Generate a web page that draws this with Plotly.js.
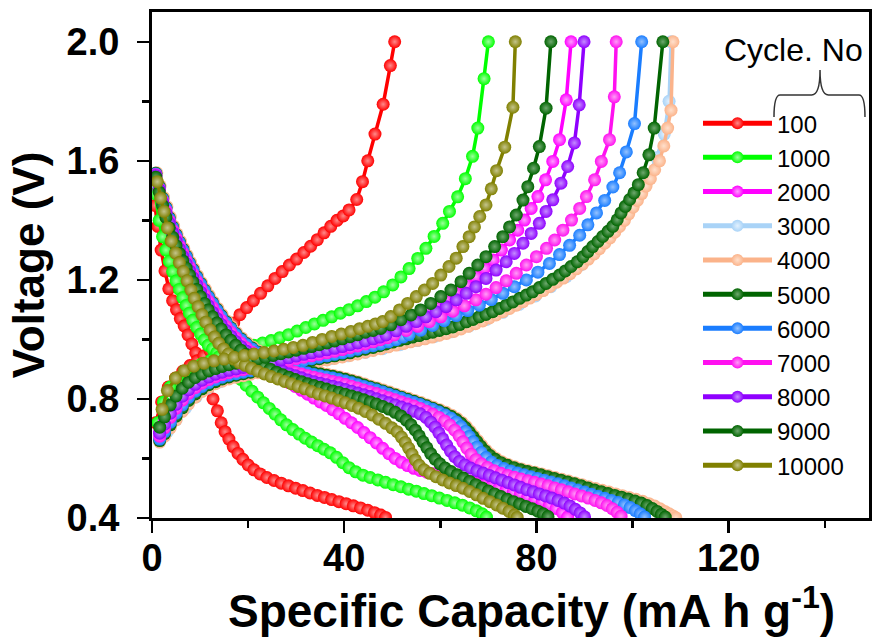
<!DOCTYPE html>
<html>
<head>
<meta charset="utf-8">
<script src="https://cdn.plot.ly/plotly-3.0.1.min.js"></script>
<style>html,body{margin:0;padding:0;background:#fff;}#chart{width:877px;height:640px;}</style>
</head>
<body>
<div id="chart"></div>
<script>
// ---------- DATA ----------
const cycleLabels = ['100','1000','2000','3000','4000','5000','6000','7000','8000','9000','10000'];

// 100 cycles
const dis100Cap = [0.6,1.2,1.9,2.7,3.5,4.3,5.1,5.9,6.7,7.5,8.3,9.1,10.0,10.9,11.8,12.7,13.6,14.4,15.2,16.0,16.9,17.9,18.9,20.0,21.2,22.5,23.9,25.4,26.9,28.4,29.9,31.4,32.9,34.4,35.9,37.4,38.9,40.4,41.9,43.4,44.9,46.3,47.6,48.6];
const dis100V = [1.45,1.38,1.30,1.23,1.17,1.13,1.10,1.07,1.045,1.015,0.985,0.955,0.92,0.88,0.84,0.80,0.76,0.72,0.69,0.665,0.64,0.617,0.597,0.578,0.562,0.548,0.536,0.526,0.517,0.508,0.5,0.492,0.484,0.476,0.469,0.462,0.455,0.448,0.441,0.434,0.426,0.418,0.41,0.402];
const chg100Cap = [0.8,2.0,3.4,4.9,6.4,7.9,9.4,10.8,12.1,13.4,14.6,15.8,17.0,18.3,19.7,21.1,22.6,24.1,25.6,27.1,28.6,30.1,31.6,33.0,34.4,35.8,37.2,38.5,39.8,41.0,42.6,43.8,44.9,46.4,48.1,49.6,50.5];
const chg100V = [0.72,0.79,0.84,0.87,0.893,0.912,0.928,0.945,0.962,0.98,1.0,1.025,1.055,1.083,1.107,1.13,1.155,1.18,1.205,1.228,1.25,1.27,1.292,1.313,1.335,1.358,1.38,1.40,1.415,1.435,1.47,1.53,1.60,1.69,1.79,1.92,2.0];

// 1000 cycles
const dis1000Cap = [0.7,1.5,2.2,2.9,3.6,4.3,5.0,5.7,6.4,7.1,7.8,8.5,9.3,10.1,10.9,11.7,12.6,13.5,14.4,15.4,16.4,17.4,18.5,19.6,20.8,22.0,23.2,24.4,25.6,26.8,28.0,29.3,30.6,31.9,33.2,34.5,35.8,37.1,38.4,39.7,41.0,42.4,43.9,45.4,47.0,48.6,50.2,51.8,53.4,55.0,56.6,58.2,59.8,61.4,63.0,64.6,66.1,67.5,68.7,69.6];
const dis1000V = [1.49,1.40,1.345,1.30,1.262,1.228,1.196,1.168,1.14,1.114,1.088,1.064,1.04,1.018,0.998,0.98,0.968,0.955,0.938,0.92,0.903,0.886,0.866,0.846,0.826,0.806,0.787,0.768,0.749,0.73,0.713,0.697,0.682,0.668,0.655,0.643,0.631,0.619,0.604,0.586,0.569,0.555,0.544,0.536,0.528,0.52,0.512,0.505,0.497,0.49,0.482,0.475,0.467,0.459,0.451,0.443,0.434,0.424,0.414,0.403];
const chg1000Cap = [1.2,2.4,3.8,5.3,6.9,8.6,10.4,12.2,14.0,15.8,17.6,19.4,21.2,23.0,24.8,26.6,28.4,30.2,32.0,33.8,35.6,37.4,39.2,41.0,42.8,44.6,46.4,48.2,50.1,51.8,53.5,55.3,57.0,58.7,60.5,61.9,63.6,65.2,66.7,67.8,69.1,70.0];
const chg1000V = [0.72,0.79,0.84,0.87,0.89,0.905,0.918,0.93,0.942,0.953,0.963,0.972,0.98,0.988,0.996,1.006,1.016,1.028,1.04,1.052,1.064,1.076,1.088,1.1,1.113,1.127,1.142,1.16,1.183,1.21,1.238,1.272,1.306,1.346,1.39,1.43,1.479,1.54,1.615,1.71,1.876,2.0];

// 2000 cycles
const dis2000Cap = [0.8,1.5,2.2,2.9,3.6,4.3,5.0,5.7,6.4,7.1,7.8,8.5,9.3,10.1,10.9,11.7,12.6,13.5,14.4,15.4,16.4,17.4,18.5,19.6,20.8,22.0,23.3,24.6,25.9,27.2,28.5,29.8,31.1,32.4,33.7,35.0,36.3,37.6,38.9,40.2,41.5,42.8,44.1,45.4,46.7,48.0,49.3,50.6,51.9,53.2,54.5,55.8,57.2,58.7,60.2,61.7,63.2,64.7,66.2,67.7,69.2,70.7,72.2,73.7,75.2,76.7,78.2,79.7,81.2,82.7,84.1,85.4,86.5];
const dis2000V = [1.545,1.5,1.46,1.425,1.39,1.36,1.333,1.307,1.282,1.258,1.234,1.211,1.186,1.162,1.139,1.117,1.094,1.072,1.051,1.03,1.01,0.991,0.973,0.956,0.94,0.925,0.91,0.896,0.882,0.868,0.855,0.842,0.829,0.816,0.803,0.79,0.778,0.764,0.75,0.735,0.72,0.704,0.687,0.67,0.652,0.634,0.616,0.6,0.587,0.576,0.567,0.56,0.554,0.549,0.544,0.539,0.534,0.529,0.524,0.518,0.512,0.506,0.5,0.494,0.487,0.48,0.472,0.464,0.455,0.444,0.432,0.418,0.403];
const chg2000Cap = [1.6,2.6,3.8,5.0,6.3,7.6,9.0,10.4,11.8,13.2,14.6,16.0,17.5,19.0,20.5,22.0,23.6,25.2,26.8,28.4,30.0,31.6,33.2,34.8,36.4,38.0,39.6,41.2,42.8,44.4,46.0,47.4,48.7,50.8,52.9,55.0,57.0,59.1,61.2,63.3,65.4,67.4,69.2,71.0,72.7,74.4,76.1,77.5,78.9,80.3,81.9,83.4,84.8,86.2,87.2];
const chg2000V = [0.69,0.725,0.765,0.795,0.822,0.843,0.86,0.873,0.884,0.893,0.9,0.906,0.911,0.916,0.921,0.926,0.931,0.936,0.942,0.948,0.954,0.96,0.965,0.97,0.975,0.981,0.987,0.993,0.999,1.006,1.013,1.02,1.026,1.043,1.06,1.076,1.093,1.11,1.133,1.155,1.183,1.211,1.239,1.267,1.3,1.334,1.367,1.401,1.44,1.48,1.536,1.598,1.671,1.805,2.0];

// 3000 cycles (lies under the 4000 curve)
const dis3000Cap = [0.9,2.3,3.7,5.1,6.5,7.9,9.4,11.0,12.7,14.5,16.5,18.6,20.9,23.4,26.0,28.6,31.2,33.8,36.4,39.0,41.6,44.2,46.8,49.4,52.0,54.6,57.2,59.8,62.2,64.4,66.1,67.7,69.4,71.5,74.0,76.8,79.6,82.4,85.2,88.0,90.8,93.6,96.4,99.2,101.8,104.0,106.0,107.8,108.7];
const dis3000V = [1.557,1.47,1.405,1.35,1.302,1.256,1.209,1.164,1.12,1.077,1.037,1.0,0.969,0.945,0.926,0.911,0.899,0.889,0.881,0.872,0.861,0.848,0.835,0.821,0.807,0.793,0.778,0.762,0.743,0.718,0.688,0.655,0.623,0.597,0.578,0.564,0.553,0.541,0.529,0.517,0.503,0.49,0.478,0.466,0.453,0.437,0.42,0.407,0.401];
const chg3000Cap = [1.6,3.2,5.0,7.0,9.2,11.6,14.2,17.0,20.0,23.2,26.6,30.0,33.6,37.2,40.8,44.4,48.0,51.6,55.2,58.8,62.4,66.0,69.6,73.0,76.4,79.8,83.0,86.2,89.2,92.0,94.6,97.0,99.3,101.4,103.3,105.0,106.6,107.6,108.0];
const chg3000V = [0.658,0.69,0.73,0.77,0.807,0.836,0.858,0.874,0.884,0.895,0.906,0.915,0.925,0.935,0.945,0.956,0.969,0.982,0.996,1.01,1.026,1.045,1.067,1.091,1.118,1.146,1.177,1.211,1.25,1.292,1.337,1.387,1.44,1.493,1.55,1.61,1.69,1.8,2.0];

// 4000 cycles
const dis4000Cap = [1.0,1.7,2.4,3.1,3.8,4.5,5.2,5.9,6.6,7.3,8.0,8.7,9.5,10.3,11.1,11.9,12.8,13.7,14.6,15.6,16.6,17.6,18.7,19.8,21.0,22.2,23.5,24.8,26.1,27.4,28.7,30.0,31.3,32.6,33.9,35.2,36.5,37.8,39.1,40.4,41.7,43.0,44.3,45.6,46.9,48.2,49.5,50.8,52.1,53.4,54.7,56.0,57.3,58.6,59.9,61.2,62.4,63.5,64.5,65.4,66.2,67.0,67.8,68.6,69.5,70.5,71.6,72.8,74.1,75.5,76.9,78.3,79.7,81.1,82.5,83.9,85.3,86.7,88.1,89.5,90.9,92.3,93.7,95.1,96.5,97.9,99.3,100.7,102.1,103.4,104.6,105.7,106.7,107.6,108.4,109.0];
const dis4000V = [1.56,1.516,1.477,1.446,1.411,1.381,1.355,1.33,1.306,1.283,1.26,1.238,1.214,1.191,1.169,1.148,1.126,1.104,1.083,1.062,1.042,1.023,1.005,0.989,0.974,0.961,0.949,0.939,0.93,0.921,0.914,0.907,0.901,0.896,0.891,0.887,0.883,0.879,0.874,0.869,0.863,0.857,0.85,0.843,0.837,0.83,0.823,0.816,0.809,0.802,0.795,0.788,0.78,0.772,0.764,0.755,0.745,0.734,0.721,0.707,0.692,0.676,0.66,0.644,0.628,0.613,0.6,0.589,0.58,0.572,0.565,0.559,0.554,0.548,0.542,0.536,0.53,0.524,0.518,0.512,0.505,0.499,0.493,0.487,0.481,0.475,0.469,0.463,0.456,0.448,0.44,0.431,0.422,0.414,0.407,0.401];
const chg4000Cap = [1.6,2.6,3.8,5.0,6.3,7.6,9.0,10.4,11.8,13.2,14.6,16.0,17.5,19.0,20.5,22.0,23.6,25.2,26.8,28.4,30.0,31.6,33.2,34.8,36.4,38.0,39.6,41.2,42.8,44.4,46.0,47.6,49.2,50.8,52.3,53.8,55.3,56.8,58.3,59.8,61.3,62.8,64.3,65.8,67.3,68.8,70.2,71.6,73.0,74.4,75.8,77.2,78.6,80.0,81.4,82.8,84.2,85.6,87.0,88.3,89.6,90.8,92.0,93.1,94.2,95.3,96.3,97.3,98.3,99.2,100.1,101.0,101.9,102.8,103.7,104.6,105.6,106.5,107.3,108.0,108.4];
const chg4000V = [0.655,0.675,0.703,0.73,0.758,0.783,0.806,0.825,0.84,0.851,0.86,0.867,0.873,0.878,0.883,0.888,0.893,0.898,0.903,0.908,0.913,0.918,0.923,0.927,0.931,0.936,0.941,0.946,0.951,0.957,0.963,0.969,0.975,0.981,0.986,0.992,0.997,1.002,1.008,1.014,1.02,1.027,1.035,1.044,1.053,1.062,1.072,1.082,1.093,1.104,1.115,1.127,1.139,1.151,1.164,1.178,1.192,1.206,1.221,1.237,1.253,1.27,1.287,1.305,1.323,1.341,1.36,1.38,1.4,1.422,1.444,1.467,1.49,1.515,1.54,1.57,1.6,1.65,1.71,1.77,2.0];

// 5000 cycles
const dis5000Cap = [0.8,1.5,2.2,2.9,3.6,4.3,5.0,5.7,6.4,7.1,7.8,8.5,9.3,10.1,10.9,11.7,12.6,13.5,14.4,15.4,16.4,17.4,18.5,19.6,20.8,22.0,23.3,24.6,25.9,27.2,28.5,29.8,31.1,32.4,33.7,35.0,36.3,37.6,38.9,40.2,41.5,42.8,44.1,45.4,46.7,48.0,49.3,50.6,51.9,53.2,54.5,55.8,57.1,58.4,59.7,61.0,62.2,63.3,64.3,65.2,66.0,66.8,67.6,68.4,69.3,70.3,71.4,72.6,73.9,75.3,76.7,78.1,79.5,80.9,82.3,83.7,85.1,86.5,87.9,89.3,90.7,92.1,93.5,94.9,96.3,97.7,99.1,100.5,101.8,103.0,104.1,105.1,106.0,106.8];
const dis5000V = [1.558,1.514,1.474,1.443,1.408,1.378,1.352,1.327,1.303,1.28,1.257,1.235,1.211,1.188,1.166,1.145,1.123,1.101,1.08,1.059,1.039,1.02,1.002,0.986,0.971,0.958,0.946,0.936,0.927,0.918,0.911,0.904,0.898,0.893,0.888,0.884,0.88,0.876,0.871,0.866,0.86,0.854,0.847,0.84,0.834,0.827,0.82,0.813,0.806,0.799,0.792,0.785,0.777,0.769,0.761,0.752,0.742,0.731,0.718,0.704,0.689,0.673,0.657,0.641,0.625,0.61,0.597,0.586,0.577,0.569,0.562,0.556,0.551,0.545,0.539,0.533,0.527,0.521,0.515,0.508,0.501,0.494,0.488,0.482,0.476,0.47,0.464,0.457,0.45,0.442,0.432,0.422,0.412,0.403];
const chg5000Cap = [1.6,2.6,3.8,5.0,6.3,7.6,9.0,10.4,11.8,13.2,14.6,16.0,17.5,19.0,20.5,22.0,23.6,25.2,26.8,28.4,30.0,31.6,33.2,34.8,36.4,38.0,39.6,41.2,42.8,44.4,46.0,47.4,48.7,50.1,51.5,52.9,54.2,55.6,57.0,58.4,59.8,61.2,62.6,64.0,65.4,66.8,68.1,69.5,70.9,72.3,73.7,75.1,76.5,77.9,79.2,80.6,82.0,83.4,84.8,86.0,87.2,88.5,89.7,90.7,91.7,92.8,93.8,94.9,95.9,96.8,97.6,98.5,99.4,100.3,101.2,102.2,103.4,104.5,106.3];
const chg5000V = [0.66,0.683,0.713,0.742,0.77,0.795,0.817,0.834,0.848,0.858,0.867,0.874,0.88,0.885,0.89,0.895,0.9,0.905,0.91,0.915,0.92,0.925,0.93,0.935,0.94,0.945,0.95,0.955,0.961,0.967,0.973,0.979,0.985,0.991,0.997,1.002,1.008,1.013,1.019,1.024,1.03,1.036,1.042,1.05,1.059,1.067,1.076,1.084,1.093,1.104,1.115,1.126,1.138,1.149,1.16,1.174,1.188,1.202,1.216,1.23,1.245,1.261,1.278,1.295,1.312,1.329,1.346,1.363,1.38,1.402,1.425,1.447,1.47,1.492,1.52,1.56,1.62,1.71,2.0];

// 6000 cycles
const dis6000Cap = [0.8,1.5,2.2,2.9,3.6,4.3,5.0,5.7,6.4,7.1,7.8,8.5,9.3,10.1,10.9,11.7,12.6,13.5,14.4,15.4,16.4,17.4,18.5,19.6,20.8,22.0,23.3,24.6,25.9,27.2,28.5,29.8,31.1,32.4,33.7,35.0,36.3,37.6,38.9,40.2,41.5,42.8,44.1,45.4,46.7,48.0,49.3,50.6,51.9,53.2,54.5,55.8,57.1,58.4,59.7,61.0,62.2,63.3,64.3,65.2,66.0,66.8,67.6,68.5,69.5,70.6,71.8,73.2,74.6,76.0,77.4,78.8,80.2,81.6,83.0,84.4,85.8,87.2,88.6,90.0,91.4,92.8,94.2,95.6,97.0,98.3,99.5,100.6,101.6,102.5];
const dis6000V = [1.556,1.511,1.471,1.44,1.405,1.375,1.349,1.324,1.3,1.277,1.254,1.232,1.208,1.185,1.163,1.142,1.12,1.098,1.077,1.056,1.036,1.017,0.999,0.983,0.968,0.955,0.943,0.932,0.922,0.913,0.906,0.899,0.893,0.887,0.882,0.878,0.874,0.87,0.865,0.86,0.854,0.848,0.842,0.836,0.83,0.823,0.816,0.809,0.802,0.795,0.788,0.781,0.773,0.765,0.756,0.746,0.735,0.722,0.707,0.691,0.674,0.656,0.638,0.62,0.603,0.588,0.576,0.566,0.558,0.551,0.545,0.539,0.533,0.527,0.521,0.515,0.508,0.501,0.494,0.487,0.48,0.473,0.466,0.459,0.452,0.444,0.435,0.425,0.414,0.403];
const chg6000Cap = [1.6,2.6,3.8,5.0,6.3,7.6,9.0,10.4,11.8,13.2,14.6,16.0,17.5,19.0,20.5,22.0,23.6,25.2,26.8,28.4,30.0,31.6,33.2,34.8,36.4,38.0,39.6,41.2,42.8,44.4,46.0,47.6,49.2,50.8,52.2,53.5,55.9,58.4,60.8,63.3,65.7,68.1,70.6,73.0,75.4,77.9,80.3,82.7,84.8,86.9,89.0,90.7,92.5,94.2,95.9,97.3,98.7,100.4,101.9];
const chg6000V = [0.665,0.69,0.722,0.752,0.78,0.805,0.826,0.842,0.855,0.865,0.873,0.88,0.885,0.89,0.895,0.9,0.905,0.91,0.915,0.92,0.925,0.93,0.935,0.94,0.945,0.95,0.955,0.961,0.967,0.973,0.979,0.985,0.992,0.999,1.008,1.016,1.031,1.047,1.063,1.08,1.097,1.115,1.134,1.155,1.177,1.2,1.226,1.255,1.285,1.316,1.35,1.385,1.425,1.467,1.512,1.56,1.63,1.725,2.0];

// 7000 cycles
const dis7000Cap = [0.8,1.5,2.2,2.9,3.6,4.3,5.0,5.7,6.4,7.1,7.8,8.5,9.3,10.1,10.9,11.7,12.6,13.5,14.4,15.4,16.4,17.4,18.5,19.6,20.8,22.0,23.3,24.6,25.9,27.2,28.5,29.8,31.1,32.4,33.7,35.0,36.3,37.6,38.9,40.2,41.5,42.8,44.1,45.4,46.7,48.0,49.3,50.6,51.9,53.2,54.5,55.8,57.1,58.4,59.7,60.9,62.0,63.0,63.9,64.7,65.5,66.4,67.4,68.5,69.8,71.2,72.6,74.0,75.4,76.8,78.2,79.6,81.0,82.4,83.8,85.2,86.6,88.0,89.4,90.8,92.2,93.5,94.7,95.8,96.8,97.6];
const dis7000V = [1.553,1.507,1.466,1.433,1.398,1.367,1.34,1.315,1.29,1.266,1.243,1.22,1.196,1.172,1.15,1.129,1.107,1.085,1.064,1.044,1.024,1.006,0.988,0.972,0.957,0.944,0.932,0.922,0.913,0.904,0.897,0.89,0.884,0.878,0.873,0.868,0.864,0.859,0.854,0.849,0.843,0.837,0.83,0.824,0.818,0.811,0.804,0.797,0.79,0.783,0.776,0.768,0.759,0.749,0.738,0.726,0.712,0.695,0.676,0.656,0.635,0.614,0.596,0.582,0.57,0.559,0.55,0.543,0.537,0.531,0.525,0.52,0.514,0.508,0.501,0.495,0.488,0.481,0.474,0.467,0.459,0.451,0.442,0.431,0.419,0.406];
const chg7000Cap = [1.6,2.6,3.8,5.0,6.3,7.6,9.0,10.4,11.8,13.2,14.6,16.0,17.5,19.0,20.5,22.0,23.6,25.2,26.8,28.4,30.0,31.6,33.2,34.8,36.4,38.0,39.6,41.2,42.8,44.4,46.0,47.5,49.0,50.4,52.9,55.3,57.7,60.1,62.6,65.0,67.4,69.5,71.6,73.7,75.8,77.9,80.0,82.1,83.8,85.5,87.3,89.0,90.4,92.1,93.5,95.2,96.2,96.6];
const chg7000V = [0.675,0.703,0.738,0.768,0.796,0.819,0.838,0.853,0.865,0.874,0.882,0.888,0.893,0.898,0.903,0.908,0.913,0.918,0.923,0.929,0.935,0.94,0.945,0.95,0.955,0.96,0.966,0.972,0.978,0.985,0.992,0.999,1.006,1.015,1.03,1.044,1.06,1.076,1.095,1.113,1.133,1.152,1.174,1.197,1.222,1.25,1.278,1.306,1.334,1.367,1.401,1.44,1.48,1.536,1.598,1.671,1.815,2.0];

// 8000 cycles
const dis8000Cap = [0.8,1.5,2.2,2.9,3.6,4.3,5.0,5.7,6.4,7.1,7.8,8.5,9.3,10.1,10.9,11.7,12.6,13.5,14.4,15.4,16.4,17.4,18.5,19.6,20.8,22.0,23.3,24.6,25.9,27.2,28.5,29.8,31.1,32.4,33.7,35.0,36.3,37.6,38.9,40.2,41.5,42.8,44.1,45.4,46.7,48.0,49.3,50.6,51.9,53.2,54.5,55.8,57.0,58.0,58.9,59.7,60.5,61.3,62.1,63.0,64.0,65.1,66.3,67.6,68.9,70.2,71.5,72.8,74.1,75.4,76.7,78.0,79.3,80.6,81.9,83.2,84.5,85.8,87.0,88.1,89.1,90.0];
const dis8000V = [1.55,1.503,1.46,1.424,1.39,1.358,1.33,1.304,1.279,1.255,1.231,1.208,1.183,1.159,1.136,1.114,1.091,1.07,1.05,1.03,1.011,0.993,0.976,0.961,0.947,0.934,0.922,0.912,0.902,0.893,0.885,0.878,0.871,0.864,0.858,0.853,0.848,0.843,0.838,0.832,0.826,0.82,0.814,0.808,0.801,0.794,0.787,0.78,0.773,0.766,0.759,0.75,0.738,0.722,0.705,0.686,0.666,0.645,0.625,0.606,0.59,0.578,0.568,0.559,0.551,0.543,0.535,0.527,0.519,0.511,0.503,0.495,0.488,0.481,0.474,0.467,0.459,0.45,0.44,0.429,0.417,0.404];
const chg8000Cap = [1.6,2.6,3.8,5.0,6.3,7.6,9.0,10.4,11.8,13.2,14.6,16.0,17.5,19.0,20.5,22.0,23.6,25.2,26.8,28.4,30.0,31.6,33.2,34.8,36.4,38.0,39.6,41.2,42.8,44.4,46.0,47.4,48.7,50.8,52.9,55.0,57.0,59.1,61.2,63.3,65.4,67.4,69.5,71.6,73.7,75.4,77.2,78.9,80.6,82.0,83.4,85.1,86.5,87.9,88.9,89.9];
const chg8000V = [0.685,0.715,0.752,0.782,0.809,0.831,0.849,0.863,0.874,0.883,0.89,0.896,0.901,0.906,0.911,0.916,0.921,0.926,0.932,0.938,0.944,0.95,0.955,0.96,0.965,0.97,0.976,0.982,0.988,0.995,1.002,1.008,1.015,1.029,1.044,1.06,1.076,1.093,1.11,1.133,1.155,1.177,1.205,1.233,1.261,1.289,1.323,1.356,1.39,1.43,1.469,1.525,1.581,1.66,1.788,2.0];

// 9000 cycles
const dis9000Cap = [0.8,1.5,2.2,2.9,3.6,4.3,5.0,5.7,6.4,7.1,7.8,8.5,9.3,10.1,10.9,11.7,12.6,13.5,14.4,15.4,16.4,17.4,18.5,19.6,20.8,22.0,23.3,24.6,25.9,27.2,28.5,29.8,31.1,32.4,33.7,35.0,36.3,37.6,38.9,40.2,41.5,42.8,44.1,45.4,46.7,48.0,49.3,50.6,51.8,52.9,53.9,54.8,55.6,56.4,57.2,58.0,58.9,59.9,61.0,62.2,63.5,64.8,66.1,67.4,68.7,70.0,71.3,72.6,73.9,75.2,76.5,77.8,79.1,80.3,81.4,82.4];
const dis9000V = [1.545,1.495,1.45,1.41,1.375,1.343,1.315,1.289,1.264,1.24,1.216,1.193,1.168,1.144,1.121,1.099,1.076,1.055,1.035,1.015,0.997,0.98,0.964,0.949,0.935,0.922,0.911,0.9,0.89,0.881,0.873,0.865,0.858,0.851,0.845,0.839,0.833,0.827,0.822,0.816,0.81,0.804,0.797,0.79,0.783,0.775,0.766,0.755,0.743,0.729,0.713,0.695,0.676,0.656,0.636,0.616,0.598,0.582,0.568,0.556,0.545,0.534,0.523,0.512,0.501,0.491,0.481,0.472,0.463,0.455,0.447,0.439,0.431,0.423,0.414,0.405];
const chg9000Cap = [1.6,2.6,3.8,5.0,6.3,7.6,9.0,10.4,11.8,13.2,14.6,16.0,17.5,19.0,20.5,22.0,23.6,25.2,26.8,28.4,30.0,31.6,33.2,34.8,36.4,38.0,39.6,41.2,42.8,44.4,46.0,47.6,49.7,51.8,53.9,55.9,58.0,60.1,62.2,64.3,66.0,67.8,69.5,71.3,73.0,74.4,75.8,77.2,78.2,79.4,80.6,82.0,83.0];
const chg9000V = [0.705,0.74,0.78,0.81,0.836,0.856,0.872,0.884,0.894,0.902,0.909,0.915,0.92,0.925,0.93,0.935,0.94,0.946,0.952,0.958,0.964,0.97,0.976,0.982,0.988,0.995,1.002,1.009,1.016,1.024,1.03,1.037,1.049,1.066,1.082,1.099,1.121,1.144,1.166,1.194,1.222,1.25,1.278,1.312,1.345,1.378,1.418,1.468,1.513,1.575,1.648,1.777,2.0];

// 10000 cycles
const dis10000Cap = [1.1,1.8,2.5,3.2,4.0,4.9,5.7,6.5,7.3,8.1,8.8,9.6,10.4,11.2,12.1,13.0,13.9,14.9,15.9,17.0,18.2,19.4,20.7,22.0,23.4,24.8,26.2,27.6,29.0,30.4,31.8,33.2,34.6,36.0,37.4,38.8,40.2,41.6,43.0,44.4,45.8,47.2,48.6,49.9,51.0,51.9,52.7,53.4,54.1,54.8,55.6,56.6,57.8,59.1,60.5,61.9,63.3,64.7,66.1,67.5,68.9,70.3,71.7,73.0,74.3,75.4,76.0];
const dis10000V = [1.53,1.475,1.43,1.375,1.33,1.29,1.258,1.228,1.197,1.166,1.138,1.11,1.083,1.058,1.032,1.008,0.987,0.968,0.951,0.934,0.922,0.913,0.903,0.893,0.884,0.875,0.867,0.859,0.851,0.842,0.834,0.825,0.817,0.81,0.803,0.795,0.787,0.778,0.769,0.758,0.746,0.732,0.718,0.703,0.69,0.672,0.654,0.635,0.615,0.595,0.577,0.562,0.55,0.539,0.528,0.518,0.509,0.5,0.489,0.478,0.466,0.455,0.444,0.433,0.422,0.41,0.402];
const chg10000Cap = [2.1,3.2,4.9,6.7,8.7,10.8,12.9,15.0,17.1,19.2,21.2,23.3,25.4,27.4,29.4,31.4,33.4,35.4,37.4,39.4,41.4,43.2,44.9,46.5,48.0,49.7,51.5,53.2,55.0,56.7,58.4,60.1,61.8,63.3,64.7,66.0,67.1,68.2,69.5,70.6,71.7,73.4,75.1,75.6];
const chg10000V = [0.765,0.828,0.87,0.895,0.91,0.92,0.928,0.934,0.94,0.946,0.951,0.956,0.961,0.967,0.973,0.98,0.99,1.0,1.01,1.018,1.027,1.036,1.044,1.052,1.06,1.077,1.099,1.121,1.144,1.166,1.188,1.216,1.245,1.273,1.312,1.345,1.378,1.413,1.452,1.506,1.567,1.646,1.78,2.0];

// ---------- STYLE ----------
const seriesColors = ['#ff0000','#00ff00','#ff00ff','#a9d3f7','#fbb38a','#006400','#1a7dff','#ff10f0','#8f00ff','#006400','#808000'];
const highlightColors = ['#ff8a8a','#9cff9c','#ff9cff','#e2f1ff','#ffe0cc','#6ea86e','#94c2ff','#ff9cf6','#c48cff','#6ea86e','#c4c48c'];

const dataSets = [
  [dis100Cap, dis100V, chg100Cap, chg100V],
  [dis1000Cap, dis1000V, chg1000Cap, chg1000V],
  [dis2000Cap, dis2000V, chg2000Cap, chg2000V],
  [dis3000Cap, dis3000V, chg3000Cap, chg3000V],
  [dis4000Cap, dis4000V, chg4000Cap, chg4000V],
  [dis5000Cap, dis5000V, chg5000Cap, chg5000V],
  [dis6000Cap, dis6000V, chg6000Cap, chg6000V],
  [dis7000Cap, dis7000V, chg7000Cap, chg7000V],
  [dis8000Cap, dis8000V, chg8000Cap, chg8000V],
  [dis9000Cap, dis9000V, chg9000Cap, chg9000V],
  [dis10000Cap, dis10000V, chg10000Cap, chg10000V]
];

const FONT = 'Liberation Sans, Arial, Helvetica, sans-serif';
const traces = [];
cycleLabels.forEach((lab, i) => {
  const [dx, dy, cx, cy] = dataSets[i];
  const common = {
    type: 'scatter', mode: 'lines+markers', legendgroup: 'g' + lab,
    line: {color: seriesColors[i], width: 3.5},
    marker: {symbol: 'circle', size: 13, color: seriesColors[i],
             gradient: {type: 'radial', color: highlightColors[i]}, line: {width: 0}},
    hoverinfo: 'skip'
  };
  traces.push(Object.assign({}, common, {x: dx, y: dy, name: lab, showlegend: true}));
  traces.push(Object.assign({}, common, {x: cx, y: cy, name: lab, showlegend: false}));
});

const layout = {
  width: 877, height: 640,
  margin: {l: 152, r: 8, t: 12, b: 122, pad: 0},
  paper_bgcolor: '#ffffff', plot_bgcolor: '#ffffff',
  font: {family: FONT, color: '#000'},
  showlegend: true,
  legend: {
    x: 0.7615, y: 0.824, xanchor: 'left', yanchor: 'top',
    font: {family: FONT, size: 24, color: '#000'},
    bgcolor: 'rgba(0,0,0,0)', borderwidth: 0,
    itemwidth: 69, tracegroupgap: 0, itemsizing: 'constant'
  },
  xaxis: {
    range: [0, 149.2], showgrid: false, zeroline: false,
    showline: true, mirror: true, linewidth: 3, linecolor: '#000',
    ticks: 'outside', tickmode: 'linear', tick0: 0, dtick: 40,
    ticklen: 12, tickwidth: 2.5, tickcolor: '#000',
    minor: {dtick: 20, ticks: 'outside', ticklen: 7, tickwidth: 2.5, tickcolor: '#000', showgrid: false},
    tickfont: {family: FONT, size: 38, weight: 'bold', color: '#000'},
    ticklabelstandoff: -8
  },
  yaxis: {
    range: [0.4, 2.1], showgrid: false, zeroline: false,
    showline: true, mirror: true, linewidth: 3, linecolor: '#000',
    ticks: 'outside', tickmode: 'linear', tick0: 0.4, dtick: 0.4, tickformat: '.1f',
    ticklen: 12, tickwidth: 2.5, tickcolor: '#000',
    minor: {dtick: 0.2, ticks: 'outside', ticklen: 7, tickwidth: 2.5, tickcolor: '#000', showgrid: false},
    tickfont: {family: FONT, size: 38, weight: 'bold', color: '#000'},
    ticklabelstandoff: 10,
    title: {text: 'Voltage (V)', font: {family: FONT, size: 44, weight: 'bold', color: '#000'}, standoff: 9}
  },
  annotations: [{
    text: 'Specific Capacity (mA h g<sup>-1</sup>)', xref: 'paper', yref: 'paper',
    x: 0.5286, y: -0.178, xanchor: 'center', yanchor: 'middle', showarrow: false,
    font: {family: FONT, size: 46, weight: 'bold', color: '#000'}
  }, {
    text: 'Cycle. No', xref: 'paper', yref: 'paper', x: 0.8947, y: 0.925,
    xanchor: 'center', yanchor: 'middle', showarrow: false,
    font: {family: FONT, size: 32, color: '#000'}
  }],
  shapes: [{
    type: 'path', xref: 'paper', yref: 'paper',
    path: 'M 0.8675,0.7925 Q 0.8675,0.836 0.876,0.836 L 0.920,0.836 Q 0.9317,0.836 0.9317,0.8854 Q 0.9317,0.836 0.9434,0.836 L 0.986,0.836 Q 0.9944,0.836 0.9944,0.7925',
    line: {color: '#333', width: 1.5}
  }]
};

Plotly.newPlot('chart', traces, layout, {staticPlot: true, displayModeBar: false});
</script>
</body>
</html>
